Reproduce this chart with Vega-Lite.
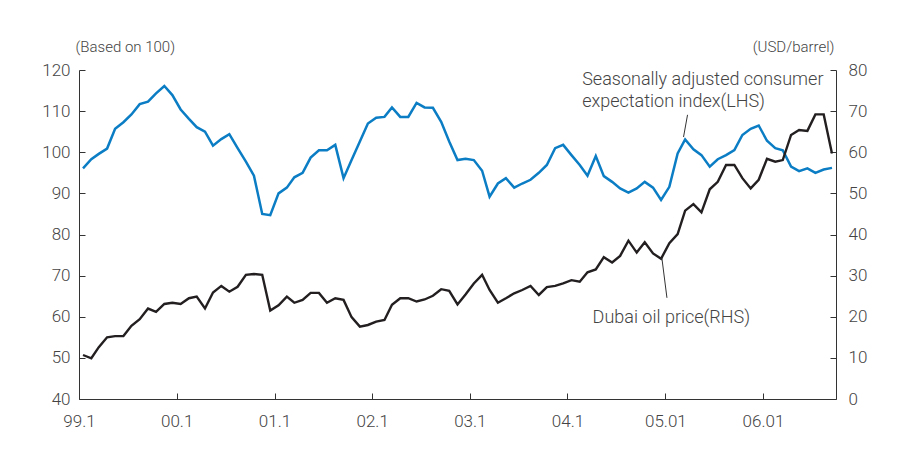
{
  "$schema": "https://vega.github.io/schema/vega-lite/v6.json",
  "width": 757,
  "height": 329,
  "autosize": {"type": "none"},
  "padding": {"left": 79, "top": 70, "right": 63, "bottom": 59},
  "background": "white",
  "config": {
    "view": {"stroke": null},
    "font": "Roboto",
    "axis": {
      "grid": false,
      "domainColor": "#333333",
      "domainWidth": 1,
      "tickColor": "#333333",
      "tickSize": -6,
      "labelColor": "#444444",
      "labelFont": "Roboto",
      "labelFontSize": 17,
      "labelFontWeight": 300,
      "titleFont": "Roboto",
      "titleFontSize": 15,
      "titleFontWeight": 300,
      "titleColor": "#444444"
    }
  },
  "datasets": {
    "main": [
      {"date":"1999-01-16","csi":96.1,"oil":10.7},
      {"date":"1999-02-16","csi":98.3,"oil":9.9},
      {"date":"1999-03-16","csi":99.6,"oil":12.6},
      {"date":"1999-04-16","csi":100.9,"oil":15.0},
      {"date":"1999-05-16","csi":105.7,"oil":15.3},
      {"date":"1999-06-16","csi":107.3,"oil":15.3},
      {"date":"1999-07-16","csi":109.2,"oil":17.8},
      {"date":"1999-08-16","csi":111.7,"oil":19.4},
      {"date":"1999-09-16","csi":112.3,"oil":22.0},
      {"date":"1999-10-16","csi":114.3,"oil":21.2},
      {"date":"1999-11-16","csi":116.1,"oil":23.1},
      {"date":"1999-12-16","csi":113.9,"oil":23.4},
      {"date":"2000-01-16","csi":110.4,"oil":23.1},
      {"date":"2000-02-16","csi":108.1,"oil":24.5},
      {"date":"2000-03-16","csi":106.1,"oil":24.9},
      {"date":"2000-04-16","csi":105.0,"oil":22.0},
      {"date":"2000-05-16","csi":101.6,"oil":25.9},
      {"date":"2000-06-16","csi":103.2,"oil":27.5},
      {"date":"2000-07-16","csi":104.4,"oil":26.1},
      {"date":"2000-08-16","csi":101.0,"oil":27.3},
      {"date":"2000-09-16","csi":97.7,"oil":30.2},
      {"date":"2000-10-16","csi":94.3,"oil":30.4},
      {"date":"2000-11-16","csi":85.0,"oil":30.2},
      {"date":"2000-12-16","csi":84.7,"oil":21.5},
      {"date":"2001-01-16","csi":90.0,"oil":22.8},
      {"date":"2001-02-16","csi":91.4,"oil":24.9},
      {"date":"2001-03-16","csi":93.9,"oil":23.4},
      {"date":"2001-04-16","csi":95.0,"oil":24.1},
      {"date":"2001-05-16","csi":98.7,"oil":25.8},
      {"date":"2001-06-16","csi":100.5,"oil":25.8},
      {"date":"2001-07-16","csi":100.5,"oil":23.4},
      {"date":"2001-08-16","csi":101.8,"oil":24.5},
      {"date":"2001-09-16","csi":93.7,"oil":24.1},
      {"date":"2001-10-16","csi":98.1,"oil":19.9},
      {"date":"2001-11-16","csi":102.6,"oil":17.6},
      {"date":"2001-12-16","csi":107.0,"oil":18.0},
      {"date":"2002-01-16","csi":108.4,"oil":18.8},
      {"date":"2002-02-16","csi":108.6,"oil":19.2},
      {"date":"2002-03-16","csi":110.9,"oil":22.9},
      {"date":"2002-04-16","csi":108.6,"oil":24.5},
      {"date":"2002-05-16","csi":108.6,"oil":24.5},
      {"date":"2002-06-16","csi":112.0,"oil":23.7},
      {"date":"2002-07-16","csi":110.9,"oil":24.2},
      {"date":"2002-08-16","csi":110.8,"oil":25.1},
      {"date":"2002-09-16","csi":107.4,"oil":26.7},
      {"date":"2002-10-16","csi":102.6,"oil":26.3},
      {"date":"2002-11-16","csi":98.1,"oil":23.0},
      {"date":"2002-12-16","csi":98.4,"oil":25.4},
      {"date":"2003-01-16","csi":98.1,"oil":28.1},
      {"date":"2003-02-16","csi":95.5,"oil":30.2},
      {"date":"2003-03-16","csi":89.2,"oil":26.5},
      {"date":"2003-04-16","csi":92.4,"oil":23.4},
      {"date":"2003-05-16","csi":93.7,"oil":24.5},
      {"date":"2003-06-16","csi":91.4,"oil":25.7},
      {"date":"2003-07-16","csi":92.4,"oil":26.5},
      {"date":"2003-08-16","csi":93.3,"oil":27.5},
      {"date":"2003-09-16","csi":95.0,"oil":25.3},
      {"date":"2003-10-16","csi":96.9,"oil":27.2},
      {"date":"2003-11-16","csi":101.0,"oil":27.5},
      {"date":"2003-12-16","csi":101.8,"oil":28.1},
      {"date":"2004-01-16","csi":99.3,"oil":28.9},
      {"date":"2004-02-16","csi":96.9,"oil":28.5},
      {"date":"2004-03-16","csi":94.3,"oil":30.8},
      {"date":"2004-04-16","csi":99.1,"oil":31.5},
      {"date":"2004-05-16","csi":94.2,"oil":34.5},
      {"date":"2004-06-16","csi":92.8,"oil":33.2},
      {"date":"2004-07-16","csi":91.2,"oil":34.8},
      {"date":"2004-08-16","csi":90.2,"oil":38.5},
      {"date":"2004-09-16","csi":91.2,"oil":35.6},
      {"date":"2004-10-16","csi":92.8,"oil":38.1},
      {"date":"2004-11-16","csi":91.4,"oil":35.4},
      {"date":"2004-12-16","csi":88.4,"oil":34.1},
      {"date":"2005-01-16","csi":91.6,"oil":37.9},
      {"date":"2005-02-16","csi":99.7,"oil":40.1},
      {"date":"2005-03-16","csi":103.1,"oil":45.8},
      {"date":"2005-04-16","csi":100.7,"oil":47.4},
      {"date":"2005-05-16","csi":99.3,"oil":45.4},
      {"date":"2005-06-16","csi":96.5,"oil":51.0},
      {"date":"2005-07-16","csi":98.3,"oil":52.8},
      {"date":"2005-08-16","csi":99.3,"oil":56.9},
      {"date":"2005-09-16","csi":100.5,"oil":56.9},
      {"date":"2005-10-16","csi":104.2,"oil":53.7},
      {"date":"2005-11-16","csi":105.7,"oil":51.2},
      {"date":"2005-12-16","csi":106.5,"oil":53.3},
      {"date":"2006-01-16","csi":102.8,"oil":58.4},
      {"date":"2006-02-16","csi":101.0,"oil":57.7},
      {"date":"2006-03-16","csi":100.5,"oil":58.1},
      {"date":"2006-04-16","csi":96.5,"oil":64.2},
      {"date":"2006-05-16","csi":95.4,"oil":65.4},
      {"date":"2006-06-16","csi":96.1,"oil":65.2},
      {"date":"2006-07-16","csi":95.0,"oil":69.2},
      {"date":"2006-08-16","csi":95.8,"oil":69.2},
      {"date":"2006-09-16","csi":96.2,"oil":59.7}
    ],
    "lhsText": [
      {"date":"2004-02-25","v":117.6,"label":"Seasonally adjusted consumer"},
      {"date":"2004-02-25","v":112.2,"label":"expectation index(LHS)"}
    ],
    "lhsRule": [
      {"date":"2005-03-25","v":109.1,"date2":"2005-03-10","v2":103.7}
    ],
    "rhsText": [
      {"date":"2004-04-04","v":19.7,"label":"Dubai oil price(RHS)"}
    ],
    "rhsRule": [
      {"date":"2004-12-19","v":34.3,"date2":"2005-01-07","v2":24.6}
    ]
  },
  "layer": [
    {
      "layer": [
        {
          "data": {"name": "main"},
          "mark": {"type": "line", "color": "#0b7dc4", "strokeWidth": 2.5, "strokeJoin": "miter"},
          "encoding": {
            "x": {
              "field": "date", "type": "temporal",
              "scale": {"type": "utc", "domain": [{"year":1999,"month":1,"date":1,"utc":true},{"year":2006,"month":10,"date":1,"utc":true}]},
              "axis": {
                "orient": "bottom",
                "title": null,
                "values": [
                  {"year":1999,"month":1,"date":1,"utc":true},
                  {"year":2000,"month":1,"date":1,"utc":true},
                  {"year":2001,"month":1,"date":1,"utc":true},
                  {"year":2002,"month":1,"date":1,"utc":true},
                  {"year":2003,"month":1,"date":1,"utc":true},
                  {"year":2004,"month":1,"date":1,"utc":true},
                  {"year":2005,"month":1,"date":1,"utc":true},
                  {"year":2006,"month":1,"date":1,"utc":true}
                ],
                "labelExpr": "['99.1','00.1','01.1','02.1','03.1','04.1','05.01','06.01'][utcyear(datum.value)-1999]",
                "labelFlush": false,
                "labelOverlap": false,
                "labelDx": 4,
                "labelPadding": 20,
                "labelBaseline": "top"
              }
            },
            "y": {
              "field": "csi", "type": "quantitative",
              "scale": {"domain": [40, 120], "nice": false, "zero": false},
              "axis": {
                "orient": "left",
                "values": [40, 50, 60, 70, 80, 90, 100, 110, 120],
                "title": "(Based on 100)",
                "titleAngle": 0,
                "titleAlign": "left",
                "titleBaseline": "middle",
                "titleX": -4,
                "titleY": -24,
                "labelPadding": 15
              }
            }
          }
        },
        {
          "data": {"name": "lhsText"},
          "mark": {"type": "text", "align": "left", "baseline": "middle", "fontSize": 18, "fontWeight": 300, "color": "#444444", "font": "Roboto"},
          "encoding": {
            "x": {"field": "date", "type": "temporal"},
            "y": {"field": "v", "type": "quantitative"},
            "text": {"field": "label"}
          }
        },
        {
          "data": {"name": "lhsRule"},
          "mark": {"type": "rule", "color": "#333333", "strokeWidth": 1},
          "encoding": {
            "x": {"field": "date", "type": "temporal"},
            "y": {"field": "v", "type": "quantitative"},
            "x2": {"field": "date2"},
            "y2": {"field": "v2"}
          }
        }
      ]
    },
    {
      "layer": [
        {
          "data": {"name": "main"},
          "mark": {"type": "line", "color": "#231f20", "strokeWidth": 2.4, "strokeJoin": "miter"},
          "encoding": {
            "x": {"field": "date", "type": "temporal"},
            "y": {
              "field": "oil", "type": "quantitative",
              "scale": {"domain": [0, 80], "nice": false},
              "axis": {
                "orient": "right",
                "values": [0, 10, 20, 30, 40, 50, 60, 70, 80],
                "title": "(USD/barrel)",
                "titleAngle": 0,
                "titleAlign": "right",
                "titleBaseline": "middle",
                "titleX": -2,
                "titleY": -24,
                "labelPadding": 18
              }
            }
          }
        },
        {
          "data": {"name": "rhsText"},
          "mark": {"type": "text", "align": "left", "baseline": "middle", "fontSize": 18, "fontWeight": 300, "color": "#444444", "font": "Roboto"},
          "encoding": {
            "x": {"field": "date", "type": "temporal"},
            "y": {"field": "v", "type": "quantitative"},
            "text": {"field": "label"}
          }
        },
        {
          "data": {"name": "rhsRule"},
          "mark": {"type": "rule", "color": "#333333", "strokeWidth": 1},
          "encoding": {
            "x": {"field": "date", "type": "temporal"},
            "y": {"field": "v", "type": "quantitative"},
            "x2": {"field": "date2"},
            "y2": {"field": "v2"}
          }
        }
      ]
    }
  ],
  "resolve": {"scale": {"y": "independent"}}
}
